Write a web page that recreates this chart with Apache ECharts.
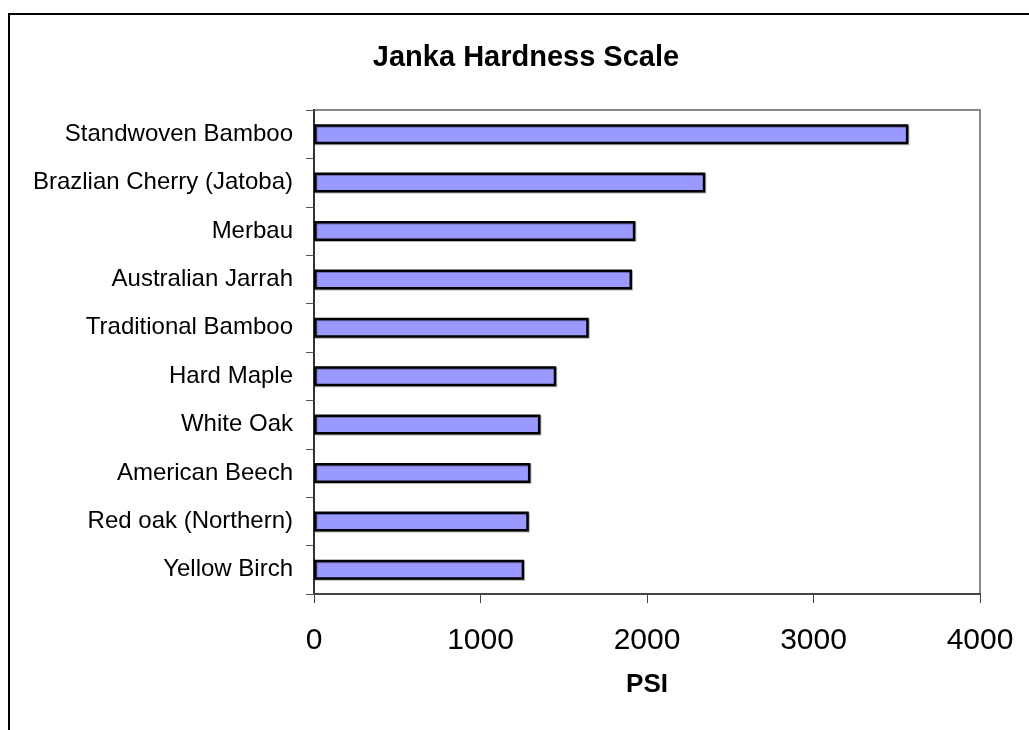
<!DOCTYPE html>
<html>
<head>
<meta charset="utf-8">
<script src="https://cdn.jsdelivr.net/npm/echarts@6/dist/echarts.min.js"></script>
<style>
  html, body { margin: 0; padding: 0; background: #fff; }
  #chart { width: 1029px; height: 730px; }
</style>
</head>
<body>
<div id="chart"></div>
<script>
// wood species, top to bottom as in the chart
var woods = ['Standwoven Bamboo', 'Brazlian Cherry (Jatoba)', 'Merbau', 'Australian Jarrah',
    'Traditional Bamboo', 'Hard Maple', 'White Oak', 'American Beech', 'Red oak (Northern)', 'Yellow Birch'];
// hardness in PSI
var hardness = [3570, 2350, 1930, 1910, 1650, 1455, 1360, 1300, 1290, 1262];
var psiTicks = [0, 1000, 2000, 3000, 4000];

var font = 'Liberation Sans, Arial, sans-serif';
var myChart = echarts.init(document.getElementById('chart'));

myChart.setOption({
    animation: false,
    backgroundColor: '#fff',
    title: {
        text: 'Janka Hardness Scale',
        left: 521,
        top: 38,
        textAlign: 'center',
        textStyle: { fontFamily: font, fontSize: 29, fontWeight: 'bold', color: '#000' }
    },
    // outer chart frame (right/bottom run off the picture)
    graphic: [{
        type: 'rect',
        shape: { x: 9, y: 14, width: 1100, height: 800 },
        style: { fill: 'none', stroke: '#000', lineWidth: 2 },
        silent: true
    }],
    grid: {
        left: 314, right: 49, top: 110, bottom: 136,
        show: true, borderColor: '#888', borderWidth: 2, backgroundColor: 'transparent'
    },
    xAxis: {
        type: 'value',
        min: psiTicks[0],
        max: psiTicks[psiTicks.length - 1],
        interval: 1000,
        name: 'PSI',
        nameLocation: 'middle',
        nameGap: 78,
        nameTextStyle: { fontFamily: font, fontSize: 26, fontWeight: 'bold', color: '#000' },
        axisLine: { show: true, lineStyle: { color: '#444', width: 2 } },
        axisTick: { show: true, length: 9, lineStyle: { color: '#444', width: 1 } },
        splitLine: { show: false },
        axisLabel: {
            fontFamily: font, fontSize: 30, color: '#000', margin: 32,
            formatter: function (v) { return String(v); }
        }
    },
    yAxis: {
        type: 'category',
        data: woods,
        inverse: true,
        axisLine: { show: true, lineStyle: { color: '#333', width: 2 } },
        axisTick: { show: true, length: 8, lineStyle: { color: '#555', width: 1 } },
        axisLabel: { fontFamily: font, fontSize: 24, color: '#000', margin: 21 }
    },
    series: [{
        type: 'bar',
        data: hardness,
        barWidth: 20,
        itemStyle: {
            color: '#9999ff', borderColor: '#000', borderWidth: 2.5,
            shadowColor: 'rgba(0,0,0,0.3)', shadowOffsetX: 1, shadowOffsetY: 1
        }
    }]
});
</script>
</body>
</html>
